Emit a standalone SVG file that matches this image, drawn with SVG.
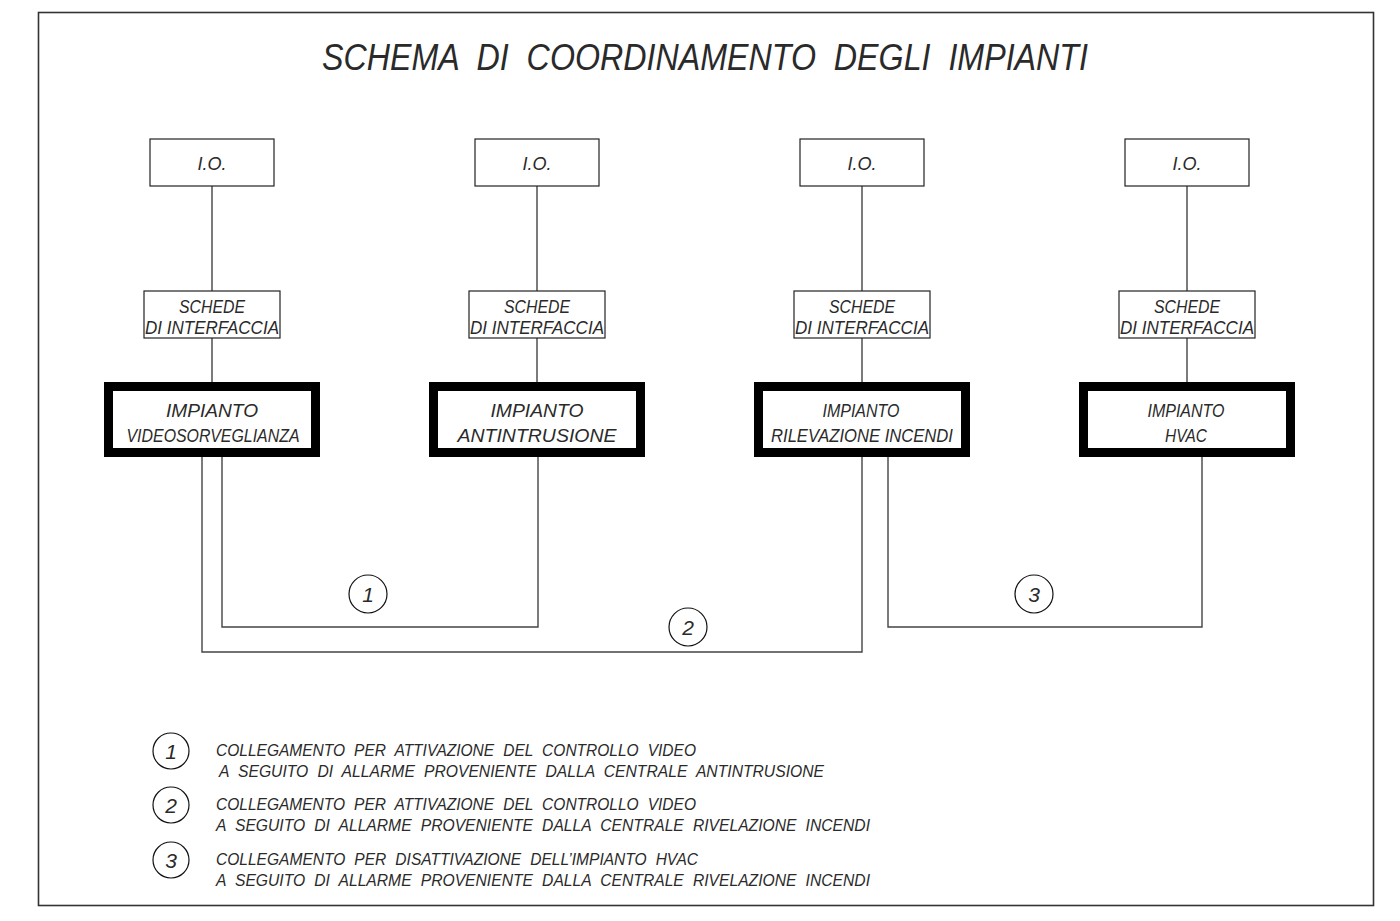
<svg xmlns="http://www.w3.org/2000/svg" width="1400" height="921" viewBox="0 0 1400 921">
<style>
text{font-family:"Liberation Sans",Arial,sans-serif;font-style:italic;fill:#2a2a2a;}
.t{font-size:36px;word-spacing:10px}
.io{font-size:18px;text-anchor:middle}
.sc{font-size:19px;text-anchor:middle}
.im{font-size:19px;text-anchor:middle}
.lg{font-size:16.5px;word-spacing:5px}
.num{font-size:21px;text-anchor:middle}
.box{fill:#fff;stroke:#222;stroke-width:1.2}
.thick{fill:#fff;stroke:#000;stroke-width:9}
.wire{fill:none;stroke:#444;stroke-width:1.4}
.circ{fill:none;stroke:#111;stroke-width:1.2}
</style>
<rect x="38.5" y="12.5" width="1335" height="893" fill="#fff" stroke="#333" stroke-width="1.6"/>
<text class="t" x="322" y="70" textLength="766" lengthAdjust="spacingAndGlyphs">SCHEMA DI COORDINAMENTO DEGLI IMPIANTI</text>

<g id="connectors">
<path class="wire" d="M212,186V291M212,338V382"/>
<path class="wire" d="M537,186V291M537,338V382"/>
<path class="wire" d="M862,186V291M862,338V382"/>
<path class="wire" d="M1187,186V291M1187,338V382"/>
<path class="wire" d="M222,457V627H538V457"/>
<path class="wire" d="M202,457V652H862V457"/>
<path class="wire" d="M888,457V627H1202V457"/>
<circle class="circ" cx="368" cy="594" r="19"/><text class="num" x="368" y="602">1</text>
<circle class="circ" cx="688" cy="627" r="19"/><text class="num" x="688" y="635">2</text>
<circle class="circ" cx="1034" cy="594" r="19"/><text class="num" x="1034" y="602">3</text>
</g>

<g id="io1"><rect class="box" x="150" y="139" width="124" height="47"/><text class="io" x="212" y="170">I.O.</text></g>
<g id="io2"><rect class="box" x="475" y="139" width="124" height="47"/><text class="io" x="537" y="170">I.O.</text></g>
<g id="io3"><rect class="box" x="800" y="139" width="124" height="47"/><text class="io" x="862" y="170">I.O.</text></g>
<g id="io4"><rect class="box" x="1125" y="139" width="124" height="47"/><text class="io" x="1187" y="170">I.O.</text></g>

<g id="sc1"><rect class="box" x="144" y="291" width="136" height="47"/><text class="sc" x="212" y="313" textLength="66" lengthAdjust="spacingAndGlyphs">SCHEDE</text><text class="sc" x="212" y="334" textLength="134" lengthAdjust="spacingAndGlyphs">DI INTERFACCIA</text></g>
<g id="sc2"><rect class="box" x="469" y="291" width="136" height="47"/><text class="sc" x="537" y="313" textLength="66" lengthAdjust="spacingAndGlyphs">SCHEDE</text><text class="sc" x="537" y="334" textLength="134" lengthAdjust="spacingAndGlyphs">DI INTERFACCIA</text></g>
<g id="sc3"><rect class="box" x="794" y="291" width="136" height="47"/><text class="sc" x="862" y="313" textLength="66" lengthAdjust="spacingAndGlyphs">SCHEDE</text><text class="sc" x="862" y="334" textLength="134" lengthAdjust="spacingAndGlyphs">DI INTERFACCIA</text></g>
<g id="sc4"><rect class="box" x="1119" y="291" width="136" height="47"/><text class="sc" x="1187" y="313" textLength="66" lengthAdjust="spacingAndGlyphs">SCHEDE</text><text class="sc" x="1187" y="334" textLength="134" lengthAdjust="spacingAndGlyphs">DI INTERFACCIA</text></g>

<g id="im1"><rect class="thick" x="108.5" y="386.5" width="207" height="66"/><text class="im" x="212" y="417" textLength="92" lengthAdjust="spacingAndGlyphs">IMPIANTO</text><text class="im" x="213" y="442" textLength="173" lengthAdjust="spacingAndGlyphs">VIDEOSORVEGLIANZA</text></g>
<g id="im2"><rect class="thick" x="433.5" y="386.5" width="207" height="66"/><text class="im" x="537" y="417" textLength="93" lengthAdjust="spacingAndGlyphs">IMPIANTO</text><text class="im" x="537" y="442" textLength="159" lengthAdjust="spacingAndGlyphs">ANTINTRUSIONE</text></g>
<g id="im3"><rect class="thick" x="758.5" y="386.5" width="207" height="66"/><text class="im" x="861" y="417" textLength="77" lengthAdjust="spacingAndGlyphs">IMPIANTO</text><text class="im" x="862" y="442" textLength="182" lengthAdjust="spacingAndGlyphs">RILEVAZIONE INCENDI</text></g>
<g id="im4"><rect class="thick" x="1083.5" y="386.5" width="207" height="66"/><text class="im" x="1186" y="417" textLength="77" lengthAdjust="spacingAndGlyphs">IMPIANTO</text><text class="im" x="1186" y="442" textLength="42" lengthAdjust="spacingAndGlyphs">HVAC</text></g>

<g id="legend">
<circle class="circ" cx="171" cy="751" r="18"/><text class="num" x="171" y="759">1</text>
<text class="lg" x="216" y="756" textLength="480" lengthAdjust="spacingAndGlyphs">COLLEGAMENTO PER ATTIVAZIONE DEL CONTROLLO VIDEO</text>
<text class="lg" x="219" y="777" textLength="605" lengthAdjust="spacingAndGlyphs">A SEGUITO DI ALLARME PROVENIENTE DALLA CENTRALE ANTINTRUSIONE</text>
<circle class="circ" cx="171" cy="805" r="18"/><text class="num" x="171" y="813">2</text>
<text class="lg" x="216" y="810" textLength="480" lengthAdjust="spacingAndGlyphs">COLLEGAMENTO PER ATTIVAZIONE DEL CONTROLLO VIDEO</text>
<text class="lg" x="216" y="831" textLength="654" lengthAdjust="spacingAndGlyphs">A SEGUITO DI ALLARME PROVENIENTE DALLA CENTRALE RIVELAZIONE INCENDI</text>
<circle class="circ" cx="171" cy="860" r="18"/><text class="num" x="171" y="868">3</text>
<text class="lg" x="216" y="865" textLength="482" lengthAdjust="spacingAndGlyphs">COLLEGAMENTO PER DISATTIVAZIONE DELL’IMPIANTO HVAC</text>
<text class="lg" x="216" y="886" textLength="654" lengthAdjust="spacingAndGlyphs">A SEGUITO DI ALLARME PROVENIENTE DALLA CENTRALE RIVELAZIONE INCENDI</text>
</g>
</svg>
